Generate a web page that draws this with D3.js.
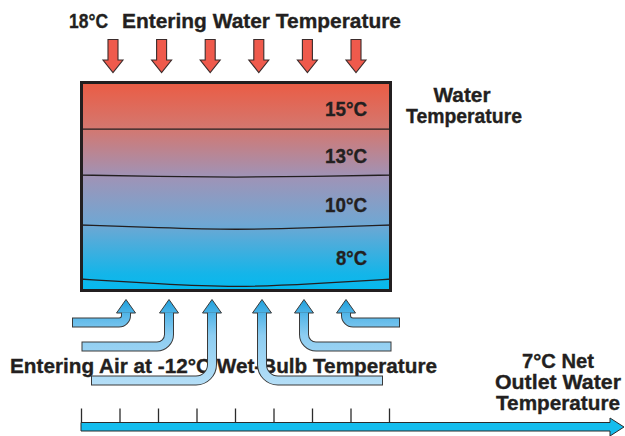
<!DOCTYPE html>
<html><head><meta charset="utf-8">
<script src="https://cdn.jsdelivr.net/npm/d3@7"></script>
<style>
html,body{margin:0;padding:0;background:#fff;}
svg{display:block;font-family:"Liberation Sans",Arial,Helvetica,sans-serif;font-weight:bold;}
text{stroke:#231f20;stroke-width:0.35px;}
</style></head>
<body>
<svg id="c" width="625" height="436"></svg>
<script>
// ---- data ----
const topArrows = [1, 2, 3, 4, 5, 6];              // entering water sprays
const layerLabels = ["15°C", "13°C", "10°C", "8°C"]; // water temperature bands
const boundaryEdge = [22.4, 44.3, 68.1, 93.8];      // band boundary depth at the walls (% of basin)
const boundaryMid  = [22.4, 45.2, 70.0, 97.1];      // band boundary depth at the centre
const airInletsLeft = [1, 2, 3];                    // air inlet arrows, left side
const airInletsRight = [4, 5, 6];                   // air inlet arrows, right side
const airLanes  = [1, 2, 3, 3, 2, 1];               // horizontal lane of each inlet
const timeTicks = [0, 1, 2, 3, 4, 5, 6, 7, 8];
const titleTop = ["18°C", "Entering Water Temperature"];
const airLabel = "Entering Air at -12°C Wet-Bulb Temperature";
const sideLabel = ["Water", "Temperature"];
const outletLabel = ["7°C Net", "Outlet Water", "Temperature"];

const airInlets = airInletsLeft.concat(airInletsRight);
const ink = "#231f20";
const svg = d3.select("#c");
const defs = svg.append("defs");

// ---- scales ----
const boxX = d3.scaleLinear().domain([0, 100]).range([80, 392]);
const depth = d3.scaleLinear().domain([0, 100]).range([82, 292]);
const topX = d3.scalePoint().domain(topArrows).range([78, 391]).padding(0.72);
const airXL = d3.scalePoint().domain(airInletsLeft).range([126, 212]);
const airXR = d3.scalePoint().domain(airInletsRight).range([262, 346]);
const airX = d => (d <= 3 ? airXL(d) : airXR(d));
const laneY = d3.scaleOrdinal().domain([1, 2, 3]).range([322.5, 346.5, 380.5]);
const laneR = d3.scaleOrdinal().domain([1, 2, 3]).range([7, 12, 16]);
const tailOff = d3.scaleLinear().domain([1, 3]).range([53, 120]);
const timeX = d3.scaleLinear().domain([0, 8]).range([81, 389]);

// ---- gradients ----
const g1 = defs.append("linearGradient").attr("id", "water")
  .attr("x1", 0).attr("y1", 0).attr("x2", 0).attr("y2", 1);
[[0, "#eb5c44"], [0.22, "#d4776f"], [0.45, "#a093b6"], [0.68, "#70a7d3"], [0.92, "#14b5e9"], [1, "#05b9ee"]]
  .forEach(([o, c]) => g1.append("stop").attr("offset", o).attr("stop-color", c));

const g2 = defs.append("linearGradient").attr("id", "air")
  .attr("gradientUnits", "userSpaceOnUse").attr("x1", 0).attr("y1", 299).attr("x2", 0).attr("y2", 386);
[[0, "#1b9fdc"], [0.2, "#5ab8e9"], [0.42, "#8dcdf1"], [1, "#b6dff7"]]
  .forEach(([o, c]) => g2.append("stop").attr("offset", o).attr("stop-color", c));

function label(x, y, size, len, txt, anchor) {
  return svg.append("text").attr("x", x).attr("y", y).attr("font-size", size).attr("fill", ink)
    .attr("text-anchor", anchor || "start")
    .attr("textLength", len).attr("lengthAdjust", "spacingAndGlyphs").text(txt);
}

// ---- title ----
label(69, 28, 21, 39, titleTop[0]);
label(122, 28, 21, 279, titleTop[1]);

// ---- top arrows ----
svg.append("g").selectAll("path").data(topArrows).join("path")
  .attr("d", d => {
    const x = topX(d);
    return `M${x - 5},39.5 L${x + 5},39.5 L${x + 5},60 L${x + 10},60 L${x},72.5 L${x - 10},60 L${x - 5},60 Z`;
  })
  .attr("fill", "#ef5a4c").attr("stroke", "#3b2b2b").attr("stroke-width", 1.1).attr("stroke-linejoin", "miter");

// ---- basin ----
svg.append("rect").attr("x", 81.5).attr("y", 82.5).attr("width", 309).attr("height", 208)
  .attr("fill", "url(#water)");

const line = d3.line().curve(d3.curveBasis);
svg.append("g").selectAll("path").data(layerLabels).join("path")
  .attr("d", (d, i) => {
    const e = depth(boundaryEdge[i]), m = depth(boundaryMid[i]);
    return line([[boxX(0), e], [boxX(25), e + (m - e) * 0.7], [boxX(50), m + (m - e) * 0.25], [boxX(75), e + (m - e) * 0.7], [boxX(100), e]]);
  })
  .attr("fill", "none").attr("stroke", ink).attr("stroke-width", 1.3);

svg.append("g").selectAll("text").data(layerLabels).join("text")
  .attr("x", 367)
  .attr("y", (d, i) => {
    const a = i === 0 ? depth(0) : depth((boundaryEdge[i - 1] + boundaryMid[i - 1]) / 2);
    const b = depth((boundaryEdge[i] + boundaryMid[i]) / 2);
    return (a + b) / 2 + 3 + 7.5;
  })
  .attr("text-anchor", "end").attr("font-size", 21).attr("fill", ink)
  .attr("textLength", d => d.length === 4 ? 42 : 31).attr("lengthAdjust", "spacingAndGlyphs")
  .text(d => d);

svg.append("rect").attr("x", 81.5).attr("y", 82.5).attr("width", 309).attr("height", 208)
  .attr("fill", "none").attr("stroke", ink).attr("stroke-width", 3);

// ---- side label ----
label(462, 102, 21, 57, sideLabel[0], "middle");
label(464, 123, 21, 116, sideLabel[1], "middle");

// ---- air label (under arrows) ----
label(10, 373, 21, 427, airLabel);

// ---- air arrows ----
function shaftPath(d, i, ext) {
  const x = airX(d), lane = airLanes[i], y = laneY(lane), r = laneR(lane);
  const left = d <= 3;
  const tail = left ? x - tailOff(lane) - ext : x + tailOff(lane) + ext;
  const p = d3.path();
  p.moveTo(tail, y);
  p.lineTo(left ? x - r : x + r, y);
  p.arcTo(x, y, x, y - r, r);
  p.lineTo(x, 313 - ext * 0.5);
  return p.toString();
}
const ag = svg.append("g");
ag.selectAll("path.o").data(airInlets).join("path").attr("class", "o")
  .attr("d", (d, i) => shaftPath(d, i, 1))
  .attr("fill", "none").attr("stroke", "#3a3a3a").attr("stroke-width", 10);
ag.selectAll("path.h").data(airInlets).join("path").attr("class", "h")
  .attr("d", d => {
    const x = airX(d);
    return `M${x},299.5 L${x + 9.5},313 L${x - 9.5},313 Z`;
  })
  .attr("fill", "url(#air)").attr("stroke", "#3a3a3a").attr("stroke-width", 1);
ag.selectAll("path.i").data(airInlets).join("path").attr("class", "i")
  .attr("d", (d, i) => shaftPath(d, i, 0))
  .attr("fill", "none").attr("stroke", "url(#air)").attr("stroke-width", 8);
ag.selectAll("path.j").data(airInlets).join("path").attr("class", "j")
  .attr("d", d => `M${airX(d)},316 L${airX(d)},312.4`)
  .attr("stroke", "url(#air)").attr("stroke-width", 8);

// ---- outlet label ----
const ol = [[368, 72], [389, 126], [410, 124]];
svg.append("g").selectAll("text").data(outletLabel).join("text")
  .attr("x", 558).attr("y", (d, i) => ol[i][0]).attr("text-anchor", "middle")
  .attr("font-size", 21).attr("fill", ink)
  .attr("textLength", (d, i) => ol[i][1]).attr("lengthAdjust", "spacingAndGlyphs")
  .text(d => d);

// ---- time axis ----
svg.append("path")
  .attr("d", `M${timeX(0)},422.5 L610,422.5 L610,418 L624,427 L610,436 L610,431 L${timeX(0)},431 Z`)
  .attr("fill", "#14bdee").attr("stroke", "#2b2b2b").attr("stroke-width", 1);
const ax = svg.append("g").attr("transform", "translate(0,422.5)")
  .call(d3.axisTop(timeX).tickValues(timeTicks).tickSize(14).tickFormat(""));
ax.select(".domain").remove();
ax.selectAll(".tick line").attr("stroke", "#2b2b2b").attr("stroke-width", 1.3);
</script>
</body></html>
